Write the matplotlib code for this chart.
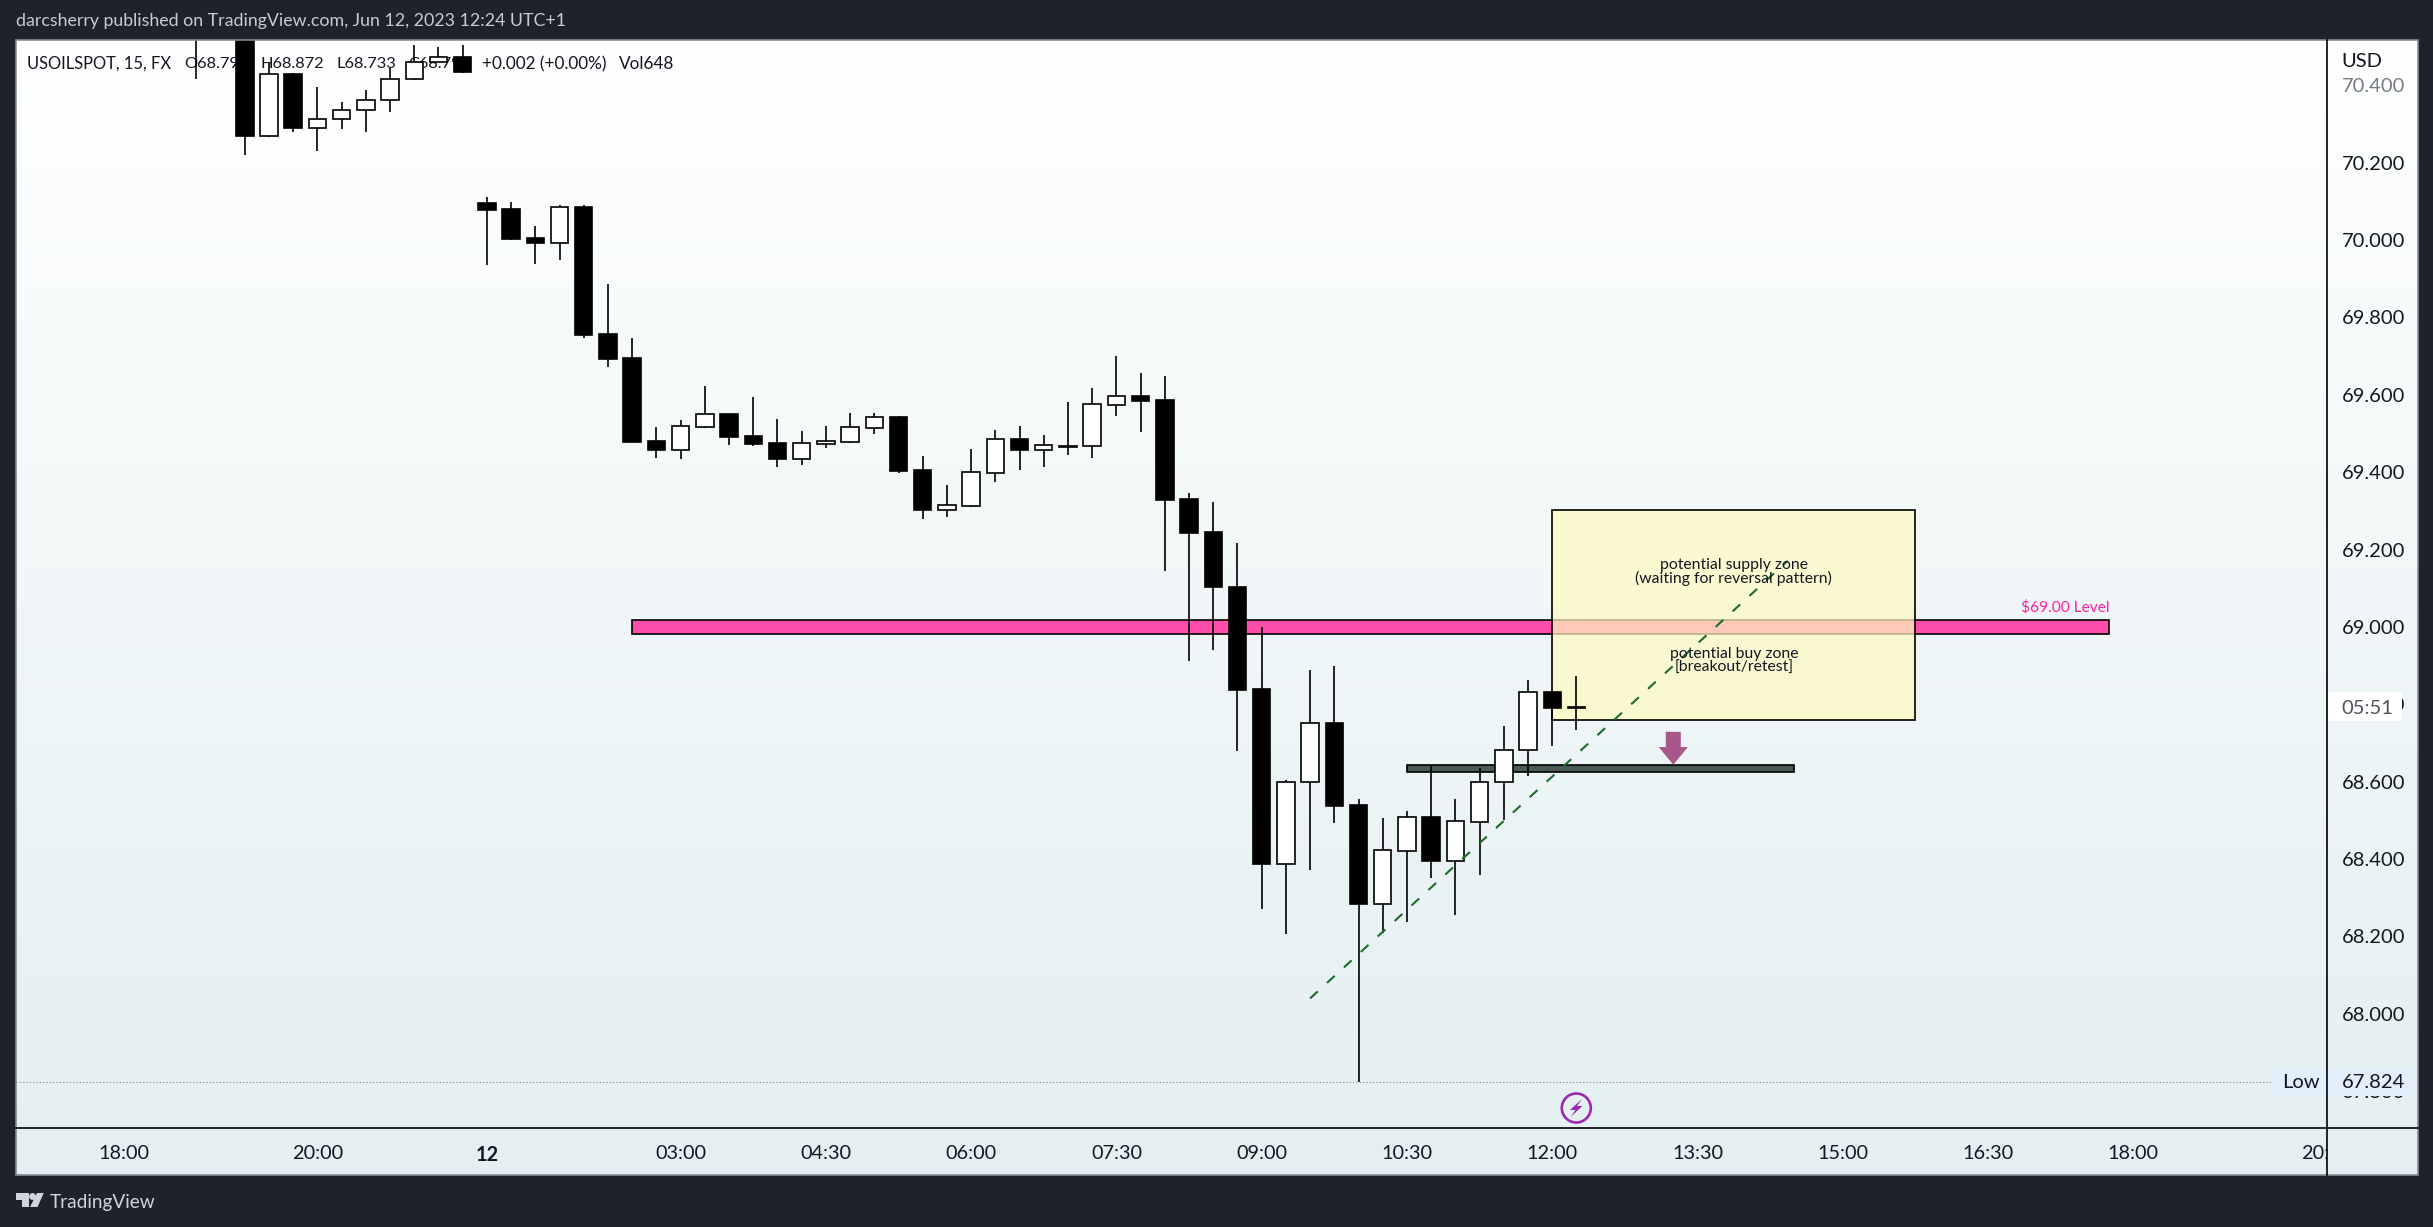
import numpy as np
import matplotlib
matplotlib.use('Agg')
import matplotlib.pyplot as plt
from matplotlib.patches import Rectangle, Circle, Polygon
from matplotlib.transforms import Bbox, TransformedBbox, IdentityTransform

W, H = 2433, 1227
FONT = 'Lato'

# 15 minute candles
opens = [70.62, 70.62, 70.70, 70.270, 70.429, 70.290, 70.312, 70.335, 70.361, 70.415, 70.459, 70.472,
         70.096, 70.080, 70.005, 69.993, 70.085, 69.757, 69.695, 69.481, 69.458, 69.518, 69.550, 69.494,
         69.475, 69.435, 69.474, 69.479, 69.515, 69.543, 69.406, 69.303, 69.313, 69.399, 69.486, 69.458,
         69.468, 69.468, 69.574, 69.597, 69.587, 69.331, 69.245, 69.103, 68.840, 68.388, 68.598, 68.752,
         68.540, 68.285, 68.422, 68.509, 68.394, 68.497, 68.598, 68.681, 68.832, 68.791]
highs = [70.70, 70.72, 70.75, 70.457, 70.431, 70.395, 70.356, 70.389, 70.444, 70.504, 70.500, 70.504,
         70.110, 70.098, 70.036, 70.090, 70.090, 69.886, 69.746, 69.517, 69.535, 69.623, 69.550, 69.594,
         69.537, 69.506, 69.519, 69.553, 69.553, 69.545, 69.442, 69.367, 69.460, 69.509, 69.519, 69.496,
         69.581, 69.618, 69.700, 69.656, 69.649, 69.346, 69.323, 69.217, 69.000, 68.605, 68.889, 68.899,
         68.555, 68.506, 68.524, 68.643, 68.555, 68.635, 68.743, 68.862, 68.832, 68.872]
lows = [70.416, 70.55, 70.220, 70.267, 70.280, 70.231, 70.288, 70.280, 70.332, 70.413, 70.459, 70.432,
        69.936, 70.000, 69.938, 69.948, 69.747, 69.672, 69.475, 69.437, 69.434, 69.514, 69.470, 69.468,
        69.413, 69.419, 69.463, 69.475, 69.499, 69.398, 69.279, 69.284, 69.310, 69.375, 69.406, 69.413,
        69.444, 69.437, 69.545, 69.504, 69.145, 68.913, 68.941, 68.680, 68.272, 68.207, 68.373, 68.494,
        67.824, 68.210, 68.238, 68.352, 68.256, 68.359, 68.502, 68.616, 68.693, 68.733]
closes = [70.60, 70.66, 70.270, 70.429, 70.290, 70.312, 70.335, 70.361, 70.415, 70.459, 70.472, 70.435,
          70.078, 70.003, 69.992, 70.085, 69.755, 69.693, 69.478, 69.457, 69.519, 69.550, 69.491, 69.473,
          69.434, 69.475, 69.480, 69.516, 69.542, 69.403, 69.302, 69.314, 69.400, 69.485, 69.457, 69.470,
          69.466, 69.575, 69.596, 69.584, 69.328, 69.243, 69.102, 68.837, 68.388, 68.599, 68.751, 68.538,
          68.285, 68.423, 68.508, 68.394, 68.498, 68.599, 68.681, 68.831, 68.791, 68.793]

price_ticks = [70.4, 70.2, 70.0, 69.8, 69.6, 69.4, 69.2, 69.0, 68.8, 68.6, 68.4, 68.2, 68.0, 67.8]
time_ticks = [-3, 5, 12, 20, 26, 32, 38, 44, 50, 56, 62, 68, 74, 80, 88]
time_labels = ['18:00', '20:00', '12', '03:00', '04:30', '06:00', '07:30', '09:00', '10:30', '12:00',
               '13:30', '15:00', '16:30', '18:00', '20:00']

low_price = 67.824
level_bar = (18, 79, 68.981, 69.017)
zone_box = (56, 71, 68.759, 69.302)
support_bar = (50, 66, 68.626, 68.643)
trend_x = [46.0, 65.73]
trend_y = [68.040, 69.171]
arrow_x = 61
arrow_from, arrow_to = 68.729, 68.644

DARK = '#1E222D'
LEFT, RIGHT, TOP, BOTTOM = 15.5, 2327, 40, 1128
PANEL_R, PANEL_B = 2417.5, 1175


def px_axes(fig, l, t, r, b, **kw):
    return fig.add_axes([l / W, 1 - b / H, (r - l) / W, (b - t) / H], **kw)


fig = plt.figure(figsize=(W / 100, H / 100), dpi=100, facecolor=DARK)
plt.rcParams['font.family'] = [FONT, 'DejaVu Sans']

# gradient behind chart and both scales
bg = px_axes(fig, LEFT, TOP, PANEL_R, PANEL_B, zorder=0)
top_c = np.array([255, 255, 255]) / 255
bot_c = np.array([227, 239, 241]) / 255
t = np.linspace(0, 1, 256)[:, None, None]
bg.imshow(top_c[None, None, :] * (1 - t) + bot_c[None, None, :] * t, aspect='auto')
bg.axis('off')

# overlay in pixel coordinates for the TradingView frame
ov = fig.add_axes([0, 0, 1, 1], zorder=3)
ov.set_xlim(0, W)
ov.set_ylim(H, 0)
ov.axis('off')
ov.patch.set_alpha(0)

ax = px_axes(fig, LEFT, TOP, RIGHT, BOTTOM, zorder=1)
ax.patch.set_alpha(0)
ax.set_xlim(-7.47, 88.0)
ax.set_ylim(67.705, 70.517)
for s in ax.spines.values():
    s.set_visible(False)

# legend row sits under the candles
legend_row = [(27, 'USOILSPOT, 15, FX', 11.9), (184, 'O68.791', 11.8), (260, 'H68.872', 11.8),
              (336, 'L68.733', 11.8), (408, 'C68.793', 11.8), (482, '+0.002 (+0.00%)', 12.3),
              (619, 'Vol648', 12.3)]
for x0, s, size in legend_row:
    ax.text(x0, 64, s, transform=ov.transData, fontsize=size, color='#131722', va='center', zorder=1, clip_on=False)

ax.add_patch(Rectangle((level_bar[0], level_bar[2]), level_bar[1] - level_bar[0], level_bar[3] - level_bar[2],
                       facecolor='#FF4DAB', edgecolor='black', linewidth=1.2, zorder=1.6))
ax.add_patch(Rectangle((support_bar[0], support_bar[2]), support_bar[1] - support_bar[0],
                       support_bar[3] - support_bar[2], facecolor='#4A5A55', edgecolor='black',
                       linewidth=1.2, zorder=1.6))
ax.add_patch(Rectangle((zone_box[0], zone_box[2]), zone_box[1] - zone_box[0], zone_box[3] - zone_box[2],
                       facecolor=(1, 0.98, 0.757, 0.72), edgecolor='black', linewidth=1.2, zorder=1.7))
ax.axhline(low_price, color='#7a8a8a', linewidth=0.8, linestyle=(0, (1, 2)), zorder=1.5)

x = np.arange(len(opens))
opens, highs, lows, closes = map(np.array, (opens, highs, lows, closes))
up = closes >= opens
ax.vlines(x, lows, highs, color='black', linewidth=1.2, zorder=3)
ax.bar(x, np.abs(closes - opens), bottom=np.minimum(opens, closes), width=0.72,
       color=np.where(up, 'white', 'black').tolist(), edgecolor='black', linewidth=1.2, zorder=3.1)

ax.plot(trend_x, trend_y, color='#1E6B2A', linewidth=1.5, linestyle=(0, (5, 6)), zorder=3.5)
ax.annotate('', xy=(arrow_x, arrow_to), xytext=(arrow_x, arrow_from),
            arrowprops=dict(width=10.8, headwidth=21, headlength=12.7, shrink=0, color='#A8578A', linewidth=0),
            zorder=3.4)

zone_mid = (zone_box[0] + zone_box[1]) / 2
ax.text(zone_mid, 69.142, 'potential supply zone\n(waiting for reversal pattern)', fontsize=11.3, color='#131722',
        ha='center', va='center', linespacing=0.9, zorder=4)
ax.text(zone_mid, 68.913, 'potential buy zone\n[breakout/retest]', fontsize=11.3, color='#131722',
        ha='center', va='center', linespacing=1.0, zorder=4)
ax.text(level_bar[1], 69.052, '$69.00 Level', fontsize=11.2, color='#FF1FA0', ha='right', va='center', zorder=4)

# axes
ax.yaxis.tick_right()
ax.set_yticks(price_ticks)
ax.set_yticklabels(['%.3f' % p for p in price_ticks])
ax.set_xticks(time_ticks)
ax.set_xticklabels(time_labels)
ax.tick_params(axis='y', length=0, pad=10.6, labelsize=14.5, labelcolor='#131722')
ax.tick_params(axis='x', length=0, pad=12, labelsize=14.3, labelcolor='#131722')
ax.get_yticklabels()[0].set_color('#777b84')
ax.get_xticklabels()[2].set_fontweight('bold')
clip = TransformedBbox(Bbox([[0, 0], [RIGHT, H]]), IdentityTransform())
last = ax.get_xticklabels()[-1]
last.set_clip_box(clip)
last.set_clip_on(True)

# frame bits on top
ov.add_patch(Rectangle((LEFT, TOP), PANEL_R - LEFT, PANEL_B - TOP, fill=False, edgecolor='#868b96', linewidth=1.2))
ov.add_patch(Rectangle((2327, 692), 74.5, 29, facecolor='white', edgecolor='none'))
ov.text(2341.7, 708, '05:51', fontsize=14.5, color='#50535E', va='center')
ov.add_patch(Rectangle((2272, 1067), 140, 29, facecolor='#E3EEFB', edgecolor='none'))
ov.text(2282, 1082, 'Low', fontsize=14.5, color='#131722', va='center')
ov.text(2341.7, 1082, '%.3f' % low_price, fontsize=14.5, color='#131722', va='center')
ov.plot([RIGHT, RIGHT], [TOP, PANEL_B], color='black', linewidth=1.2)
ov.plot([LEFT, PANEL_R], [BOTTOM, BOTTOM], color='black', linewidth=1.2)

ov.add_patch(Circle((1576.3, 1108), 14.5, facecolor='none', edgecolor='#9C27B0', linewidth=1.9))
ov.add_patch(Polygon([(1582, 1099), (1570, 1110), (1575.5, 1110), (1570.5, 1117), (1582.5, 1106), (1577, 1106)],
                     closed=True, facecolor='#9C27B0', edgecolor='none'))

ov.text(LEFT, 21, 'darcsherry published on TradingView.com, Jun 12, 2023 12:24 UTC+1', fontsize=12.75,
        color='#C8CBD3', va='center')
ov.add_patch(Polygon([(15.6, 1193), (29, 1193), (29, 1207), (22, 1207), (22, 1200), (15.6, 1200)],
                     closed=True, facecolor='#D1D4DC', edgecolor='none'))
ov.add_patch(Circle((32.5, 1196.5), 3.4, facecolor='#D1D4DC', edgecolor='none'))
ov.add_patch(Polygon([(37, 1193), (43.8, 1193), (37.5, 1207), (30, 1207)],
                     closed=True, facecolor='#D1D4DC', edgecolor='none'))
ov.text(50, 1202.5, 'TradingView', fontsize=13.7, color='#D1D4DC', va='center')
ov.text(2341.7, 61.5, 'USD', fontsize=14.5, color='#131722', va='center')

fig.savefig('out.png', dpi=100, facecolor=DARK)
